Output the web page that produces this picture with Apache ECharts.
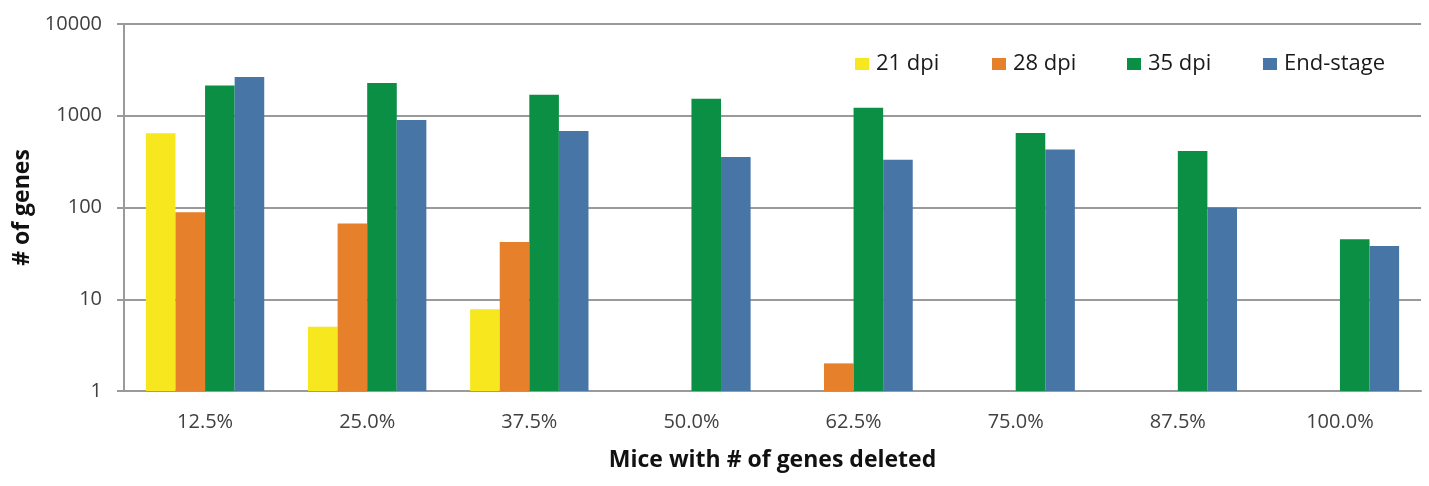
<!DOCTYPE html>
<html>
<head>
<meta charset="utf-8">
<script src="https://cdn.jsdelivr.net/npm/echarts@6/dist/echarts.min.js"></script>
<style>
html,body{margin:0;padding:0;background:#fff;}
#chart{width:1429px;height:486px;}
</style>
</head>
<body>
<div id="chart"></div>
<script>
const categories = ['12.5%', '25.0%', '37.5%', '50.0%', '62.5%', '75.0%', '87.5%', '100.0%'];
const seriesNames = ['21 dpi', '28 dpi', '35 dpi', 'End-stage'];
const dpi21 = [645, 5, 7.8, null, null, null, null, null];
const dpi28 = [89, 67, 42, null, 2, null, null, null];
const dpi35 = [2140, 2270, 1690, 1530, 1220, 650, 414, 45];
const endStage = [2650, 900, 684, 356, 331, 430, 100, 38];
const yTicks = [1, 10, 100, 1000, 10000];

const colors = ['#F7E71E', '#E6802A', '#0B8F44', '#4675A6'];
const FONT = '"Open Sans", Lato, sans-serif';
const chart = echarts.init(document.getElementById('chart'));
const legendLefts = [855, 992, 1127, 1263];
const dataSets = [dpi21, dpi28, dpi35, endStage];

chart.setOption({
  animation: false,
  backgroundColor: '#ffffff',
  grid: {left: 124, right: 8, top: 24, bottom: 95, containLabel: false},
  legend: seriesNames.map((n, i) => ({
    data: [n],
    left: legendLefts[i],
    top: 53,
    padding: 0,
    itemWidth: 14,
    itemHeight: 12,
    itemGap: 0,
    icon: 'rect',
    textStyle: {fontFamily: FONT, fontSize: 22, color: '#1a1a1a', padding: [0, 0, 0, 2]}
  })),
  xAxis: {
    type: 'category',
    data: categories,
    name: 'Mice with # of genes deleted',
    nameLocation: 'middle',
    nameGap: 58,
    nameTextStyle: {fontFamily: FONT, fontSize: 23, fontWeight: 'bold', color: '#111'},
    axisLine: {show: true, lineStyle: {color: '#9a9a9a', width: 2}},
    axisTick: {show: false},
    axisLabel: {fontFamily: FONT, fontSize: 20, color: '#404040', margin: 21}
  },
  yAxis: {
    type: 'log',
    logBase: 10,
    min: 1,
    max: 10000,
    name: '# of genes',
    nameLocation: 'middle',
    nameGap: 87,
    nameRotate: 90,
    nameTextStyle: {fontFamily: FONT, fontSize: 23, fontWeight: 'bold', color: '#111'},
    axisLine: {show: true, lineStyle: {color: '#9a9a9a', width: 2}},
    axisTick: {show: true, length: 7, inside: false, lineStyle: {color: '#9a9a9a', width: 2}},
    splitLine: {show: true, lineStyle: {color: '#9a9a9a', width: 2}},
    axisLabel: {fontFamily: FONT, fontSize: 20, color: '#404040', margin: 22,
      formatter: v => (yTicks.indexOf(Math.round(v)) >= 0 ? String(Math.round(v)) : '')}
  },
  series: seriesNames.map((n, i) => ({
    name: n,
    type: 'bar',
    data: dataSets[i],
    barGap: '0%',
    barCategoryGap: '27%',
    itemStyle: {color: colors[i]}
  }))
});
</script>
</body>
</html>
